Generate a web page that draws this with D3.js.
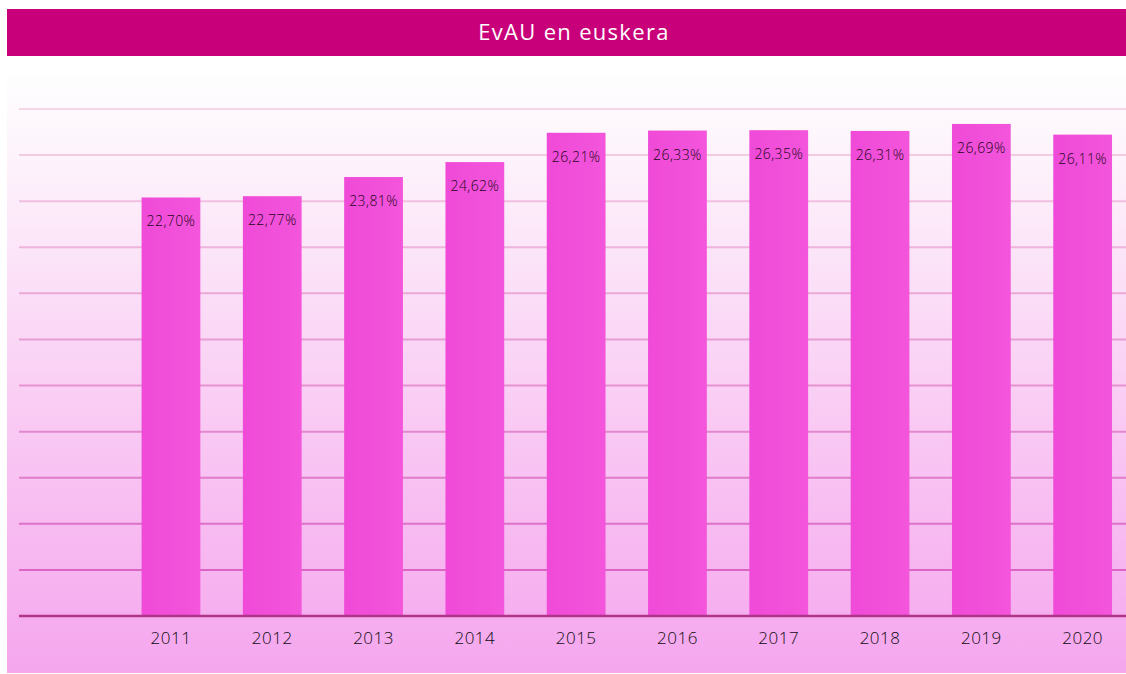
<!DOCTYPE html>
<html>
<head>
<meta charset="utf-8">
<script src="https://cdn.jsdelivr.net/npm/d3@7"></script>
<style>
  body { margin: 0; background: #fff; font-family: "Open Sans", sans-serif; }
</style>
</head>
<body>
<div id="container"></div>
<script>
/* CONSTANTS AND GLOBALS */
const width = 1126,
  height = 674,
  margin = { top: 109, bottom: 58, left: 19, right: -7 }

// DATA
const years = ["2011", "2012", "2013", "2014", "2015", "2016", "2017", "2018", "2019", "2020"]
const shares = [22.70, 22.77, 23.81, 24.62, 26.21, 26.33, 26.35, 26.31, 26.69, 26.11]
const gridTicks = [0, 2.5, 5, 7.5, 10, 12.5, 15, 17.5, 20, 22.5, 25, 27.5]
const title = "EvAU en euskera"

const data = years.map((y, i) => ({ year: y, value: shares[i] }))
const formatPct = d => d3.format(".2f")(d).replace(".", ",") + "%"

// CREATE SVG ELEMENT
const svg = d3.select("#container")
  .append("svg")
  .attr("width", width)
  .attr("height", height)

// gradients
const defs = svg.append("defs")
const bg = defs.append("linearGradient")
  .attr("id", "bgGrad")
  .attr("x1", 0).attr("y1", 0).attr("x2", 0).attr("y2", 1)
bg.append("stop").attr("offset", "0%").attr("stop-color", "#fefefe")
bg.append("stop").attr("offset", "15%").attr("stop-color", "#fdf2fb")
bg.append("stop").attr("offset", "60%").attr("stop-color", "#f9c8f3")
bg.append("stop").attr("offset", "100%").attr("stop-color", "#f5a6ee")

const barGrad = defs.append("linearGradient")
  .attr("id", "barGrad")
  .attr("x1", 0).attr("y1", 0).attr("x2", 1).attr("y2", 0)
barGrad.append("stop").attr("offset", "0%").attr("stop-color", "#ef4ad8")
barGrad.append("stop").attr("offset", "100%").attr("stop-color", "#f355db")

// TITLE BAR
svg.append("rect")
  .attr("x", 7).attr("y", 9)
  .attr("width", width - 7).attr("height", 47)
  .attr("fill", "#c8007a")

svg.append("text")
  .attr("x", 574).attr("y", 40)
  .attr("text-anchor", "middle")
  .attr("fill", "#ffffff")
  .attr("font-size", 22)
  .attr("letter-spacing", "1.3px")
  .text(title)

// PLOT BACKGROUND
svg.append("rect")
  .attr("x", 7).attr("y", 75)
  .attr("width", width - 7).attr("height", 598)
  .attr("fill", "url(#bgGrad)")

// SCALES
const step = 101.3
const xScale = d3.scaleBand()
  .domain(years)
  .range([margin.left + step, margin.left + step * 11])
  .paddingInner(0.42)
  .paddingOuter(0.21)

const yScale = d3.scaleLinear()
  .domain([0, 27.5])
  .range([height - margin.bottom, margin.top])

const gridColor = d3.scaleLinear()
  .domain([0, 27.5])
  .range(["#d85ac0", "#f6d6e6"])

// GRID LINES
svg.append("g")
  .attr("class", "grid")
  .selectAll("line")
  .data(gridTicks.filter(d => d > 0))
  .join("line")
  .attr("x1", margin.left)
  .attr("x2", width)
  .attr("y1", d => yScale(d))
  .attr("y2", d => yScale(d))
  .attr("stroke", d => gridColor(d))
  .attr("stroke-width", 2)

// DRAW BARS
svg.selectAll(".bar")
  .data(data)
  .join("rect")
  .attr("class", "bar")
  .attr("x", d => xScale(d.year))
  .attr("y", d => yScale(d.value))
  .attr("width", xScale.bandwidth())
  .attr("height", d => yScale(0) - yScale(d.value))
  .attr("fill", "url(#barGrad)")

// VALUE LABELS
svg.selectAll(".label")
  .data(data)
  .join("text")
  .attr("class", "label")
  .attr("x", d => xScale(d.year) + xScale.bandwidth() / 2)
  .attr("y", d => yScale(d.value) + 29)
  .attr("text-anchor", "middle")
  .attr("fill", "#1e0619")
  .attr("font-size", 14)
  .attr("font-weight", 300)
  .attr("letter-spacing", "0.4px")
  .text(d => formatPct(d.value))

// BASELINE + X AXIS
const xAxis = d3.axisBottom(xScale).tickSize(0).tickPadding(16)

const xAxisGroup = svg.append("g")
  .attr("class", "xAxis")
  .attr("transform", `translate(0, ${yScale(0)})`)
  .call(xAxis)

xAxisGroup.select(".domain").remove()
xAxisGroup.selectAll("text")
  .attr("font-family", "Open Sans, sans-serif")
  .attr("font-size", 17)
  .attr("font-weight", 300)
  .attr("letter-spacing", "0.5px")
  .attr("fill", "#0e0a0e")

svg.append("line")
  .attr("x1", margin.left)
  .attr("x2", width)
  .attr("y1", yScale(0))
  .attr("y2", yScale(0))
  .attr("stroke", "#b0358a")
  .attr("stroke-width", 2.5)
</script>
</body>
</html>
